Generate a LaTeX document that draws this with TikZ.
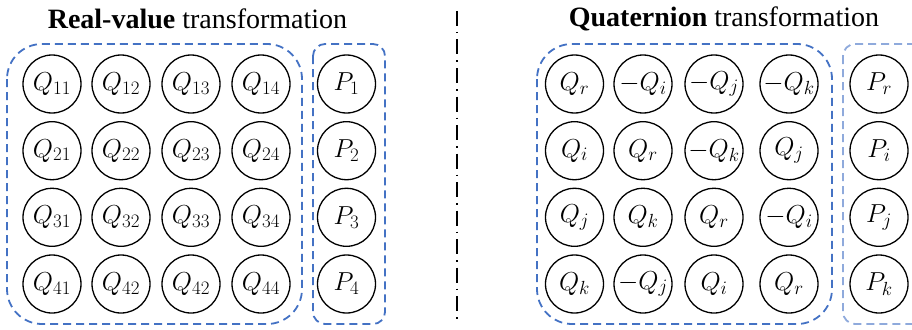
\RequirePackage{fix-cm}
\documentclass[tikz,border=0pt]{standalone}
\usepackage{fontspec}
\setmainfont{Liberation Serif}
% larger subscripts inside the cells
\DeclareMathSizes{26}{26}{19}{15}
\begin{document}
\begin{tikzpicture}[x=1pt,y=-1pt,
  cell/.style={circle,draw=black,line width=1.3pt,minimum size=58pt,inner sep=0pt,font=\fontsize{26}{26}\selectfont},
  group/.style={draw=boxblue,line width=1.8pt,dash pattern=on 8pt off 5pt},
  title/.style={font=\fontsize{28}{32}\selectfont,inner sep=0pt}]
\definecolor{boxblue}{HTML}{4472C4}
\definecolor{paleblue}{HTML}{8FAADC}
\useasboundingbox (0,0) rectangle (912,329);
\clip (0,0) rectangle (912,329);

% titles
\node[title] (tl) at (197.5,19) {\textbf{Real-value} transformation};
\node[title] (tr) at (724,19) {\textbf{Quaternion} transformation};

% separator
\coordinate (st) at (457,11);
\coordinate (sb) at (457,324);
\draw[line width=1.4pt,dash pattern=on 15pt off 6pt on 1.5pt off 6pt] (st) -- (sb);

% dashed frames
\draw[group,rounded corners=35pt] (7,44) rectangle (302,324);
\draw[group,rounded corners=12pt] (313,44) rectangle (385,324);
\draw[group,rounded corners=35pt] (537,44) rectangle (832,324);
\draw[group,draw=paleblue,rounded corners=12pt] (843,44) rectangle (925,324);

% real-valued weights
\foreach \r/\y in {1/84,2/150.7,3/217.3,4/284}{
  \foreach \c/\x in {1/52,2/121,3/191,4/261}{
    \ifnum\r\c=43
      \node[cell] (q\r\c) at (\x,\y) {$Q_{42}$};
    \else
      \node[cell] (q\r\c) at (\x,\y) {$Q_{\r\c}$};
    \fi
  }
  \node[cell] (p\r) at (346.5,\y) {$P_{\r}$};
}

% quaternion weights
\def\qrow#1#2#3#4#5#6{%
  \node[cell] (h#1a) at (574.5,#2) {$#3$};
  \node[cell] (h#1b) at (643,#2) {$#4$};
  \node[cell] (h#1c) at (714,#2) {$#5$};
  \node[cell] (h#1d) at (789,#2) {$#6$};}
\qrow{1}{84}{Q_r}{-Q_i}{-Q_j}{-Q_k}
\qrow{2}{150.7}{Q_i}{Q_r}{-Q_k}{Q_j}
\qrow{3}{217.3}{Q_j}{Q_k}{Q_r}{-Q_i}
\qrow{4}{284}{Q_k}{-Q_j}{Q_i}{Q_r}
\node[cell] (pr) at (879,84) {$P_r$};
\node[cell] (pi) at (879,150.7) {$P_i$};
\node[cell] (pj) at (879,217.3) {$P_j$};
\node[cell] (pk) at (879,284) {$P_k$};
\end{tikzpicture}
\end{document}
